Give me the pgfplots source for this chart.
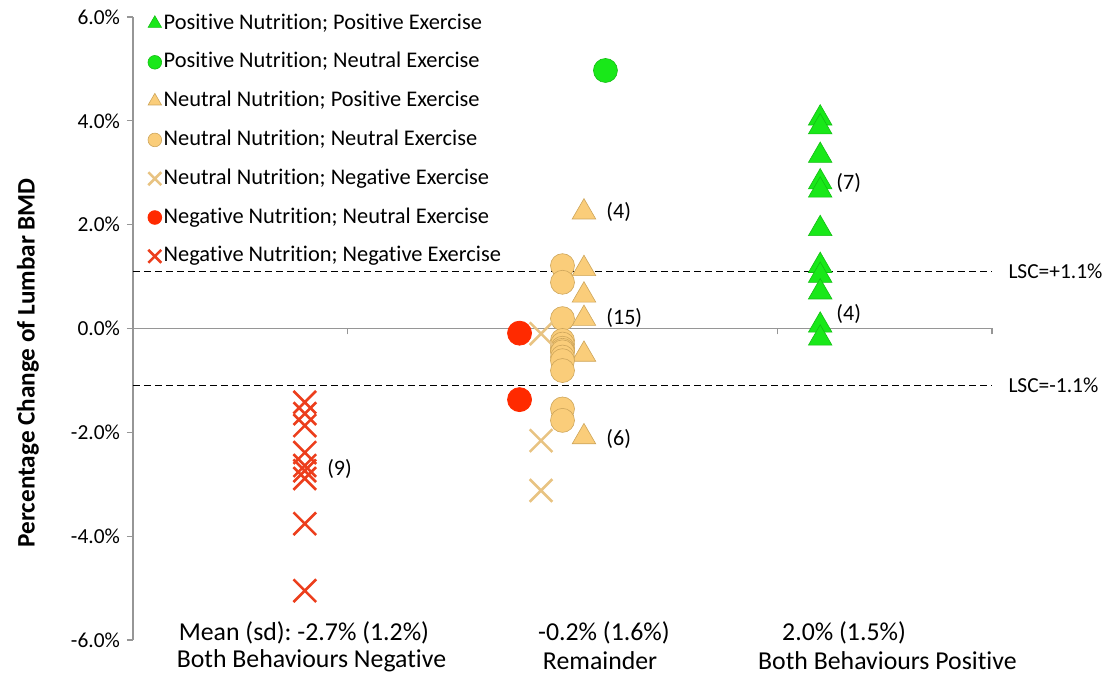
\documentclass[border=0pt]{standalone}
\usepackage{fontspec}
\setmainfont{Carlito}[Ligatures=NoCommon]
\usepackage{pgfplots}
\pgfplotsset{compat=1.18}
\frenchspacing

\definecolor{axgray}{RGB}{150,150,150}
\definecolor{grn}{RGB}{25,232,25}
\definecolor{grnd}{RGB}{20,190,20}
\definecolor{tan}{RGB}{250,205,122}
\definecolor{tand}{RGB}{205,165,90}
\definecolor{tanx}{RGB}{232,195,130}
\definecolor{redc}{RGB}{255,42,0}
\definecolor{redx}{RGB}{236,62,28}

\begin{document}
\begin{tikzpicture}
\begin{axis}[
  at={(66.5pt,17pt)}, anchor=south west,
  scale only axis, width=429.5pt, height=311.5pt,
  xmin=0, xmax=4, ymin=-6, ymax=6,
  axis x line=middle, axis y line=left,
  axis line style={-, draw=axgray, line width=0.6pt},
  hide obscured x ticks=false, hide obscured y ticks=false,
  xtick={0,1,2,3,4}, xticklabels={},
  ytick={-6,-4,...,6},
  tick style={axgray, line width=0.6pt},
  major tick length=3pt,
  tick align=outside,
  /pgf/number format/assume math mode=true,
  yticklabel={\pgfmathprintnumber[fixed,fixed zerofill,precision=1]{\tick}\%},
  yticklabel style={font=\fontsize{10.7}{12}\selectfont},
  clip=false,
  legend style={at={(axis cs:0.04,6.2)}, anchor=north west, draw=none, fill=none,
    font=\fontsize{11.2}{13}\selectfont, row sep=6.9pt,
    nodes={inner sep=1pt, text height=8pt, text depth=2.5pt}},
  legend cell align=left,
  legend image code/.code={\draw[mark repeat=2,mark phase=2,#1,every mark/.append style={scale=0.57}] plot coordinates {(0pt,0pt)(4.5pt,0pt)(9pt,0pt)};},
]
% LSC lines
\addplot[black, line width=0.5pt, dash pattern=on 3.5pt off 2pt, forget plot] coordinates {(0,1.1)(4,1.1)};
\addplot[black, line width=0.5pt, dash pattern=on 3.5pt off 2pt, forget plot] coordinates {(0,-1.1)(4,-1.1)};

\addplot[only marks, mark=triangle*, mark size=6.8pt, color=grn, mark options={fill=grn, draw=grnd, line width=0.3pt}]
  coordinates {(3.2,4.05)(3.2,3.88)(3.2,3.33)(3.2,2.82)(3.2,2.66)(3.2,1.92)(3.2,1.21)(3.2,1.02)(3.2,0.70)(3.2,0.06)(3.2,-0.19)};
\addlegendentry{Positive Nutrition; Positive Exercise}
\addplot[only marks, mark=*, mark size=6pt, color=grn, mark options={fill=grn, draw=grnd, line width=0.3pt}]
  coordinates {(2.2,4.97)};
\addlegendentry{Positive Nutrition; Neutral Exercise}
\addplot[only marks, mark=triangle*, mark size=6.8pt, color=tan, mark options={fill=tan, draw=tand, line width=0.3pt}]
  coordinates {(2.1,2.24)(2.1,1.15)(2.1,0.64)(2.1,0.19)(2.1,-0.50)(2.1,-2.09)};
\addlegendentry{Neutral Nutrition; Positive Exercise}
\addplot[only marks, mark=*, mark size=6pt, color=tan, mark options={fill=tan, draw=tand, line width=0.3pt}]
  coordinates {(2,1.21)(2,0.89)(2,0.19)(2,-0.23)(2,-0.30)(2,-0.38)(2,-0.42)(2,-0.45)(2,-0.55)(2,-0.62)(2,-0.81)(2,-1.55)(2,-1.77)};
\addlegendentry{Neutral Nutrition; Neutral Exercise}
\addplot[only marks, mark=x, mark size=8pt, color=tanx, line width=1.3pt]
  coordinates {(1.9,-0.10)(1.9,-2.16)(1.9,-3.12)};
\addlegendentry{Neutral Nutrition; Negative Exercise}
\addplot[only marks, mark=*, mark size=6pt, color=redc, mark options={fill=redc, draw=redc}]
  coordinates {(1.8,-0.09)(1.8,-1.37)};
\addlegendentry{Negative Nutrition; Neutral Exercise}
\addplot[only marks, mark=x, mark size=8pt, color=redx, line width=1.3pt]
  coordinates {(0.8,-1.42)(0.8,-1.64)(0.8,-1.87)(0.8,-2.39)(0.8,-2.64)(0.8,-2.74)(0.8,-2.89)(0.8,-3.76)(0.8,-5.05)};
\addlegendentry{Negative Nutrition; Negative Exercise}

% annotations
\begin{scope}[every node/.style={font=\fontsize{11}{13}\selectfont, anchor=west, inner sep=0pt}]
\node at (axis cs:0.903,-2.70) {(9)};
\node at (axis cs:2.203,2.25) {(4)};
\node at (axis cs:2.203,0.21) {(15)};
\node at (axis cs:2.203,-2.12) {(6)};
\node at (axis cs:3.274,2.81) {(7)};
\node at (axis cs:3.274,0.27) {(4)};
\end{scope}
\begin{scope}[every node/.style={font=\fontsize{10.7}{12}\selectfont, anchor=west, inner sep=0pt}]
\node at (axis cs:4.075,1.1) {LSC=+1.1\%};
\node at (axis cs:4.075,-1.1) {LSC=-1.1\%};
\end{scope}
\begin{scope}[every node/.style={font=\fontsize{12.9}{14}\selectfont, inner sep=0pt}]
\node at (axis cs:0.796,-5.86) {Mean (sd): -2.7\% (1.2\%)};
\node at (axis cs:0.831,-6.40) {Both Behaviours Negative};
\node at (axis cs:2.193,-5.86) {-0.2\% (1.6\%)};
\node at (axis cs:2.175,-6.40) {Remainder};
\node at (axis cs:3.311,-5.86) {2.0\% (1.5\%)};
\node at (axis cs:3.513,-6.40) {Both Behaviours Positive};
\end{scope}
\node[rotate=90, font=\bfseries\fontsize{12.6}{14}\selectfont, inner sep=0pt] at (axis cs:-0.489,-0.66) {Percentage Change of Lumbar BMD};
\end{axis}
\pgfresetboundingbox
\useasboundingbox (0,0) rectangle (554.5pt,337pt);
\end{tikzpicture}
\end{document}
